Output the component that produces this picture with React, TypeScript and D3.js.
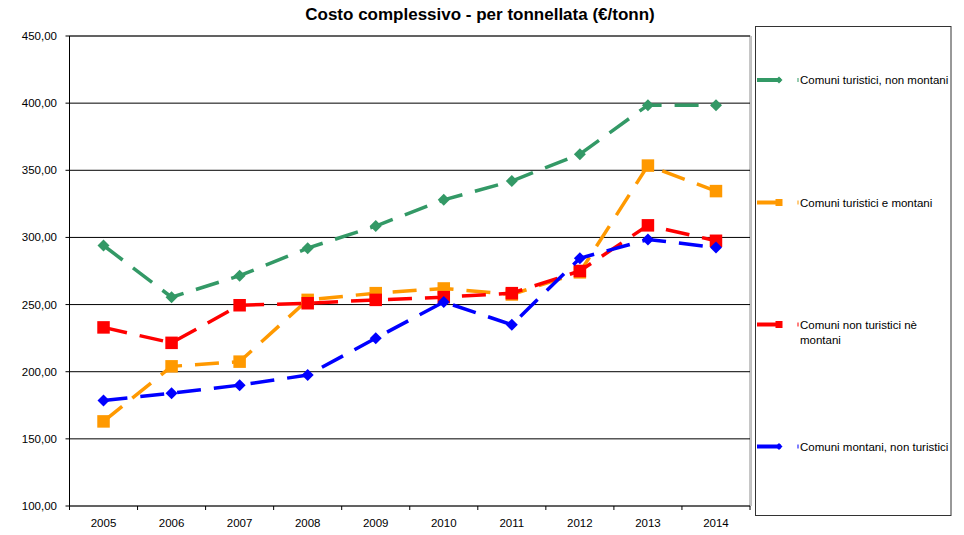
import React from "react";
import * as d3 from "d3";

const years = ["2005", "2006", "2007", "2008", "2009", "2010", "2011", "2012", "2013", "2014"];
const yTicks = [100, 150, 200, 250, 300, 350, 400, 450];

const turisticiNonMontani = [294, 255.5, 271.5, 292, 308.5, 328, 342, 362, 398.5, 398.5];
const turisticiMontani = [163, 204, 207.5, 253.5, 258.5, 262, 257.5, 274, 353.5, 334.5];
const nonTuristiciNeMontani = [233, 221.5, 249.5, 251, 253.5, 255.5, 258.5, 275, 309, 297.5];
const montaniNonTuristici = [178.5, 184, 190, 197.5, 225, 252, 235, 284.5, 298.5, 292.5];

const seriesNames = [
  ["Comuni turistici, non montani"],
  ["Comuni turistici e montani"],
  ["Comuni non turistici nè", "montani"],
  ["Comuni montani, non turistici"],
];
const seriesColors = ["#339966", "#FF9900", "#FF0000", "#0000FF"];
const seriesMarkers = ["diamond", "square", "square", "diamond"];
const seriesValues = [turisticiNonMontani, turisticiMontani, nonTuristiciNeMontani, montaniNonTuristici];

const W = 964;
const H = 535;
const plot = { left: 69.5, right: 750, top: 36, bottom: 506 };
const font = "Arial, 'Liberation Sans', Helvetica, sans-serif";

function Marker({ type, cx, cy, size, color }: { type: string; cx: number; cy: number; size: number; color: string }) {
  if (type === "diamond") {
    const h = size / 2;
    return <path d={`M${cx},${cy - h}L${cx + h},${cy}L${cx},${cy + h}L${cx - h},${cy}Z`} fill={color} />;
  }
  return <rect x={cx - size / 2} y={cy - size / 2} width={size} height={size} fill={color} />;
}

export default function App() {
  const x = d3.scaleBand<string>().domain(years).range([plot.left, plot.right]);
  const y = d3.scaleLinear().domain([100, 450]).range([plot.bottom, plot.top]);
  const cx = (yr: string) => (x(yr) as number) + x.bandwidth() / 2;
  const line = d3
    .line<number>()
    .x((_, i) => cx(years[i]))
    .y((d) => y(d));

  const legendY = [80, 202.5, 324.5, 446.5];
  const boundaries = years.map((yr) => x(yr) as number).concat([plot.right]);

  return (
    <svg width={W} height={H} style={{ position: "absolute", left: 0, top: 0, background: "#fff" }} fontFamily={font}>
      <rect x={0} y={0} width={W} height={H} fill="#fff" />
      <text x={480} y={20} textAnchor="middle" fontSize={17} fontWeight="bold" fill="#000">
        Costo complessivo - per tonnellata (€/tonn)
      </text>

      {/* plot frame */}
      <rect x={plot.left} y={plot.top} width={plot.right - plot.left} height={plot.bottom - plot.top} fill="#fff" stroke="#8c8c8c" strokeWidth={1} />
      <line x1={plot.right + 1.5} x2={plot.right + 1.5} y1={plot.top} y2={plot.bottom} stroke="#c0c0c0" strokeWidth={1} />

      {/* gridlines */}
      {yTicks.slice(1).map((t) => (
        <line key={t} x1={plot.left} x2={plot.right} y1={y(t)} y2={y(t)} stroke="#000" strokeWidth={1} />
      ))}

      {/* y axis */}
      <line x1={plot.left} x2={plot.left} y1={plot.top} y2={plot.bottom} stroke="#000" strokeWidth={1} />
      {yTicks.map((t) => (
        <g key={t}>
          <line x1={plot.left - 4} x2={plot.left} y1={y(t)} y2={y(t)} stroke="#000" />
          <text x={57} y={y(t) + 4} textAnchor="end" fontSize={11.5} fill="#000">
            {d3.format(".2f")(t).replace(".", ",")}
          </text>
        </g>
      ))}

      {/* x axis */}
      <line x1={plot.left} x2={plot.right} y1={plot.bottom} y2={plot.bottom} stroke="#000" strokeWidth={1} />
      {boundaries.map((b, i) => (
        <line key={i} x1={b} x2={b} y1={plot.bottom} y2={plot.bottom + 4} stroke="#000" />
      ))}
      {years.map((yr) => (
        <text key={yr} x={cx(yr)} y={527} textAnchor="middle" fontSize={11.5} fill="#000">
          {yr}
        </text>
      ))}

      {/* series */}
      {seriesValues.map((vals, si) => (
        <g key={si}>
          <path d={line(vals) || ""} fill="none" stroke={seriesColors[si]} strokeWidth={3.5} strokeDasharray="24 13" />
          {vals.map((v, i) => (
            <Marker
              key={i}
              type={seriesMarkers[si]}
              cx={cx(years[i])}
              cy={y(v)}
              size={seriesMarkers[si] === "diamond" ? 12 : 12.5}
              color={seriesColors[si]}
            />
          ))}
        </g>
      ))}

      {/* legend */}
      <rect x={755.5} y={26.5} width={195.5} height={489} fill="#fff" stroke="#333" strokeWidth={1} />
      {seriesNames.map((names, si) => (
        <g key={si}>
          <line x1={757} x2={781} y1={legendY[si]} y2={legendY[si]} stroke={seriesColors[si]} strokeWidth={4} />
          <Marker type={seriesMarkers[si]} cx={779} cy={legendY[si]} size={7} color={seriesColors[si]} />
          <rect x={797.5} y={legendY[si] - 2} width={1} height={4} fill={seriesColors[si]} />
          {names.map((n, li) => (
            <text key={li} x={800} y={legendY[si] + 4 + li * 15} fontSize={11.5} fill="#000">
              {n}
            </text>
          ))}
        </g>
      ))}
    </svg>
  );
}
